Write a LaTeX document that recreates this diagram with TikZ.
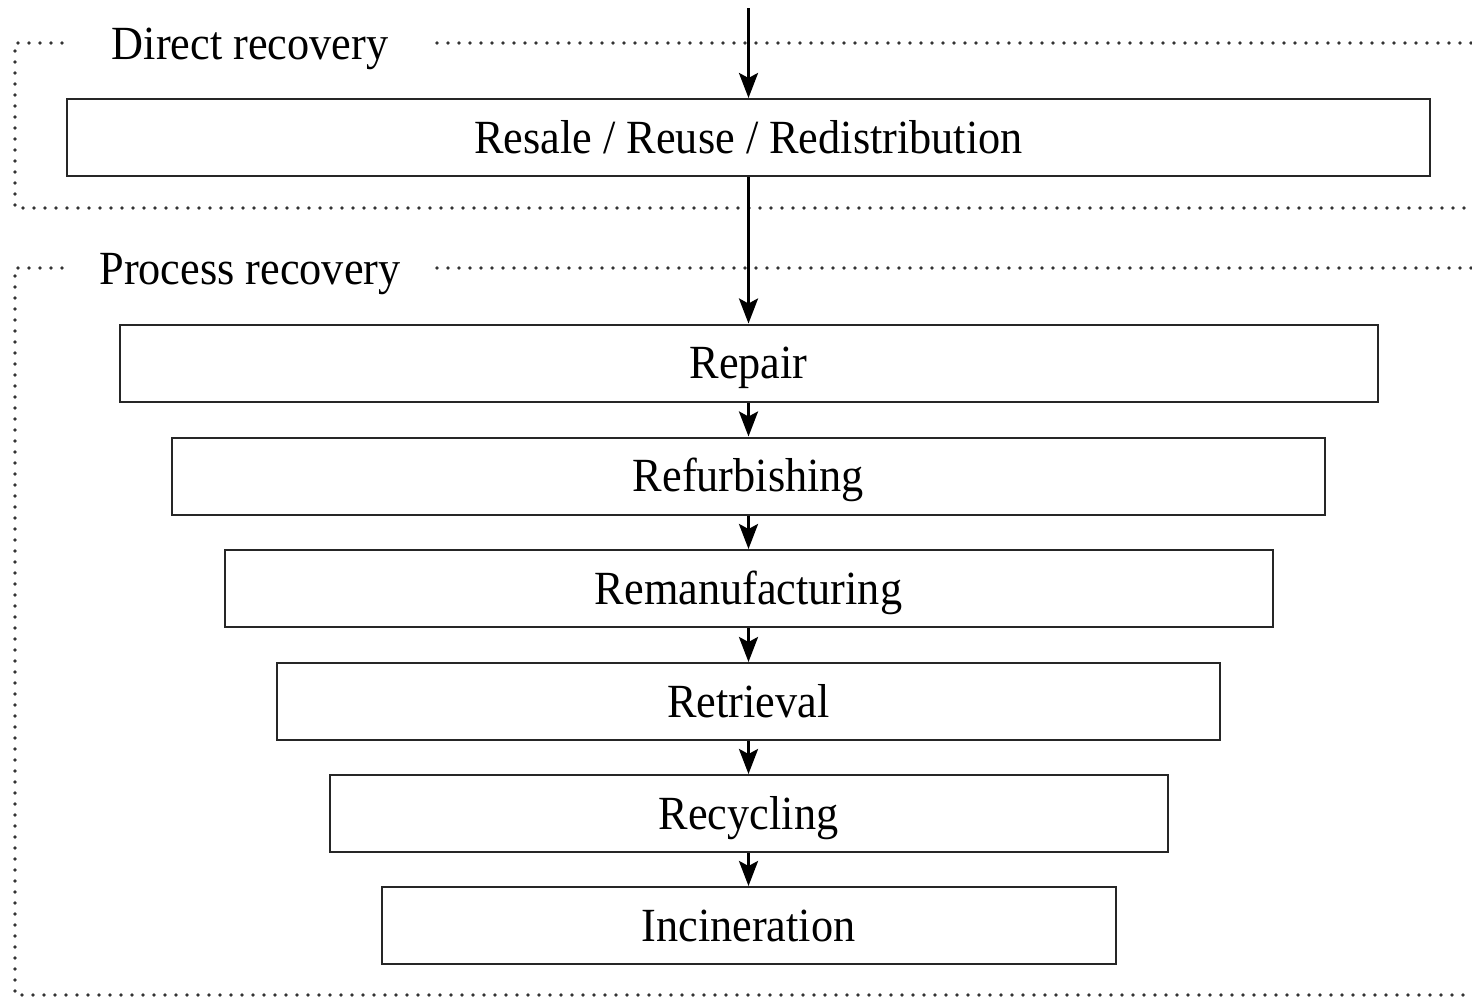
\documentclass[tikz,border=0pt]{standalone}
\usepackage{fontspec}
\setmainfont{Liberation Serif}[FakeStretch=0.93]
\usetikzlibrary{arrows.meta}
\begin{document}
\begin{tikzpicture}[x=1pt,y=-1pt,
  txt/.style={font=\fontsize{47.6}{50}\selectfont, inner sep=0pt, text height=31.5pt, text depth=0pt},
  stage/.style={txt, draw=black!85, line width=2pt, minimum height=77pt},
  flow/.style={line width=3pt, -{Stealth[length=25pt,width=19pt,inset=5pt]}},
  frame/.style={line width=3.6pt, line cap=round, dash pattern=on 0pt off 11pt, black!80}]
\useasboundingbox (0,0) rectangle (1472,997);
% frames
\draw[frame] (62,43) -- (15,43) -- (15,208) -- (1472,208);
\draw[frame] (437,43) -- (1472,43);
\draw[frame] (62,268) -- (15,268) -- (15,995) -- (1472,995);
\draw[frame] (437,268) -- (1472,268);
\node[txt] (dlab) at (250,44) {Direct recovery};
\node[txt] (plab) at (250,269) {Process recovery};
% stages
\node[stage, minimum width=1363pt] (s0) at (748.5,137.5) {Resale / Reuse / Redistribution};
\node[stage, minimum width=1258pt] (s1) at (748.5,363) {Repair};
\node[stage, minimum width=1153pt] (s2) at (748.5,476) {Refurbishing};
\node[stage, minimum width=1048pt] (s3) at (748.5,588.5) {Remanufacturing};
\node[stage, minimum width=943pt] (s4) at (748.5,701.5) {Retrieval};
\node[stage, minimum width=838pt] (s5) at (748.5,813.5) {Recycling};
\node[stage, minimum width=734pt] (s6) at (748.5,925.5) {Incineration};
\coordinate (top) at (748.5,8);
\draw[flow] (top) -- (s0.north);
\draw[flow] (s0.south) -- (s1.north);
\draw[flow] (s1.south) -- (s2.north);
\draw[flow] (s2.south) -- (s3.north);
\draw[flow] (s3.south) -- (s4.north);
\draw[flow] (s4.south) -- (s5.north);
\draw[flow] (s5.south) -- (s6.north);
\end{tikzpicture}
\end{document}
